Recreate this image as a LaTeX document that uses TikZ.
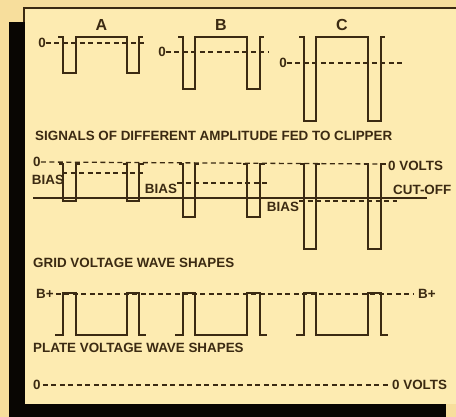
\documentclass[tikz,border=0pt]{standalone}
\usepackage{fontspec}
\setmainfont{Liberation Sans}
\usepackage{tikz}
\usetikzlibrary{positioning, calc}
\definecolor{paper}{HTML}{F7DE9C}
\definecolor{panel}{HTML}{FDEBB1}
\definecolor{ink}{HTML}{3B2A12}

\begin{document}
\begin{tikzpicture}[x=1pt, y=-1pt,
    wave/.style={ink, line width=1.6pt},
    zeroline/.style={ink, line width=1.3pt, dash pattern=on 5pt off 3.5pt},
    lbl/.style={text=ink, font=\bfseries\fontsize{13.4}{14}\selectfont, inner sep=0pt},
  ]
  % paper and frame
  \fill[paper] (0,0) rectangle (456,417);
  \useasboundingbox (0,0) rectangle (456,417);
  \fill[panel] (25,9) rectangle (456,404);
  \fill[black!85!ink] (9,22) rectangle (25,417);
  \fill[black!85!ink] (9,404) rectangle (446,417);
  \draw[ink, line width=2pt] (24,22) -- (24,8) -- (456,8);

  % signals fed to the clipper
  \foreach \a/\b/\c/\d/\z/\lo/\ze/\nm in {63/76/127/139/43/73/146/A,
      183/195/247/260/52/89/268/B, 304/316/368/381/63/121/403/C} {
    \node[lbl, font=\bfseries\fontsize{16}{16}\selectfont] (lab\nm) at ({(\b+\c)/2},25) {\nm};
    \node[lbl] (zero\nm) at (\a-21,\z) {0};
    \draw[zeroline] (zero\nm.east) -- (\ze,\z);
    \draw[wave] (\a-5,37) -- (\a,37) -- (\a,\lo) -- (\b,\lo) -- (\b,37)
      -- (\c,37) -- (\c,\lo) -- (\d,\lo) -- (\d,37) -- (\d+4,37);
  }
  \node[lbl, anchor=west] (capsig) at (35,136) {SIGNALS OF DIFFERENT AMPLITUDE FED TO CLIPPER};

  % grid voltage
  \node[lbl, anchor=west] (gzero) at (33,162) {0};
  \node[lbl, anchor=west] (gvolts) at (388,166) {0 VOLTS};
  \node[lbl, anchor=west] (cutoff) at (393,190) {CUT-OFF};
  \draw[zeroline] (gzero.east) -- (382,164);
  \draw[wave] (33,198) -- (427,198);
  \foreach \a/\b/\c/\d/\gl in {63/76/127/139/201, 183/195/247/260/217,
      304/316/368/381/249} {
    \draw[wave] (\a-4,164) -- (\a,164) -- (\a,\gl) -- (\b,\gl) -- (\b,164) -- (\b+4,164);
    \draw[wave] (\c-4,164) -- (\c,164) -- (\c,\gl) -- (\d,\gl) -- (\d,164) -- (\d+5,164);
  }
  \node[lbl] (biasA) at (48,180) {BIAS};
  \draw[zeroline] (62,173) -- (143,173);
  \node[lbl] (biasB) at (161,189) {BIAS};
  \draw[zeroline] (177,183) -- (268,183);
  \node[lbl] (biasC) at (283,207) {BIAS};
  \draw[zeroline] (299,201) -- (397,201);
  \node[lbl, anchor=west] (capgrid) at (33,263) {GRID VOLTAGE WAVE SHAPES};

  % plate voltage
  \node[lbl, anchor=west] (bplusL) at (36,294) {B+};
  \node[lbl, anchor=west] (bplusR) at (418,294) {B+};
  \draw[zeroline, shorten <=2pt, shorten >=4pt] (bplusL.east) -- (bplusR.west);
  \foreach \a/\b/\c/\d in {63/76/127/139, 183/195/247/260, 304/316/368/381} {
    \draw[wave] (\a-8,335) -- (\a,335) -- (\a,293) -- (\b,293) -- (\b,335)
      -- (\c,335) -- (\c,293) -- (\d,293) -- (\d,335) -- (\d+7,335);
  }
  \node[lbl, anchor=west] (capplate) at (33,348) {PLATE VOLTAGE WAVE SHAPES};

  % zero reference
  \node[lbl, anchor=west] (zbot) at (33,385) {0};
  \node[lbl, anchor=west] (voltsbot) at (392,385) {0 VOLTS};
  \draw[zeroline, shorten <=2pt, shorten >=4pt] (zbot.east) -- (voltsbot.west);
\end{tikzpicture}
\end{document}
